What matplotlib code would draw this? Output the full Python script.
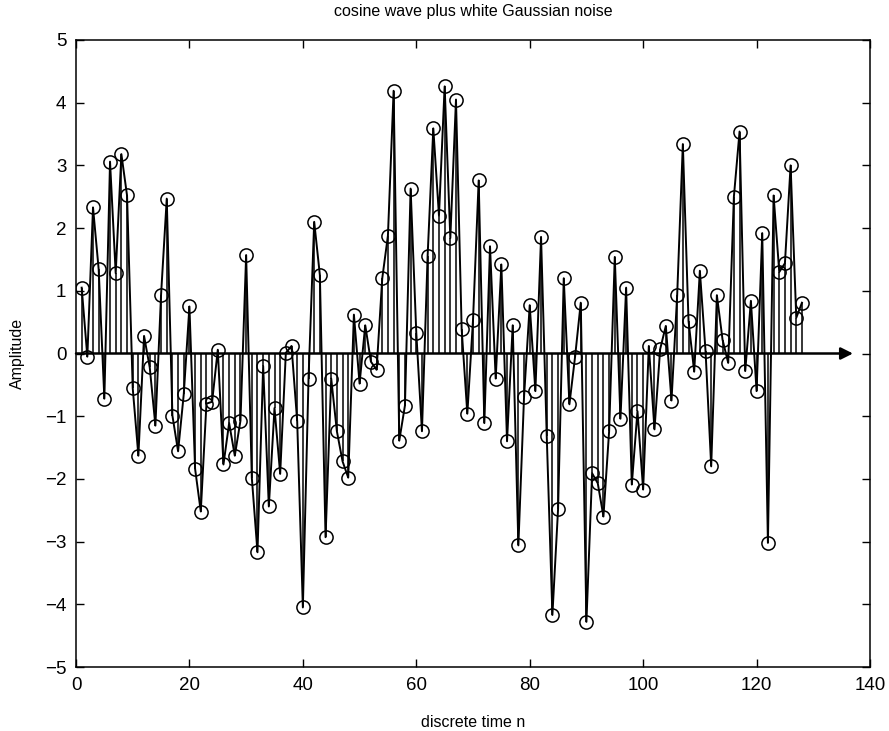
import numpy as np
import matplotlib
matplotlib.use("Agg")
import matplotlib.pyplot as plt

plt.rcParams['font.family'] = ['Liberation Sans', 'DejaVu Sans']

n = list(range(1, 129))
x = [1.05, -0.05, 2.33, 1.34, -0.72, 3.06, 1.28, 3.18, 2.52, -0.55,
     -1.63, 0.28, -0.22, -1.15, 0.94, 2.47, -0.99, -1.56, -0.65, 0.75,
     -1.84, -2.52, -0.80, -0.77, 0.06, -1.77, -1.11, -1.63, -1.07, 1.57,
     -1.98, -3.17, -0.20, -2.44, -0.87, -1.92, 0.01, 0.12, -1.08, -4.05,
     -0.40, 2.10, 1.25, -2.93, -0.40, -1.24, -1.72, -1.98, 0.62, -0.48,
     0.45, -0.13, -0.26, 1.20, 1.88, 4.19, -1.39, -0.83, 2.63, 0.33,
     -1.24, 1.56, 3.59, 2.20, 4.26, 1.84, 4.05, 0.39, -0.96, 0.53,
     2.76, -1.11, 1.71, -0.40, 1.42, -1.40, 0.45, -3.06, -0.69, 0.77,
     -0.60, 1.86, -1.31, -4.17, -2.48, 1.20, -0.81, -0.05, 0.81, -4.28,
     -1.91, -2.07, -2.60, -1.24, 1.54, -1.04, 1.05, -2.09, -0.92, -2.17,
     0.12, -1.21, 0.07, 0.44, -0.75, 0.93, 3.34, 0.52, -0.29, 1.32,
     0.04, -1.80, 0.93, 0.22, -0.15, 2.50, 3.54, -0.28, 0.84, -0.60,
     1.92, -3.02, 2.52, 1.30, 1.44, 3.00, 0.57, 0.81]

title = "cosine wave plus white Gaussian noise"
xlabel = "discrete time n"
ylabel = "Amplitude"
xticks = [0, 20, 40, 60, 80, 100, 120, 140]
yticks = [-5, -4, -3, -2, -1, 0, 1, 2, 3, 4, 5]
arrow_end = 137

fig = plt.figure(figsize=(8.89, 7.31), dpi=100)
ax = fig.add_axes([76/889, 1-667/731, (870-76)/889, (667-40)/731])

# stems
ax.vlines(n, 0, x, colors='black', linewidth=1.1)
# connecting line
ax.plot(n, x, color='black', linewidth=1.4)
# markers
ax.plot(n, x, linestyle='none', marker='o', markersize=9.5,
        markerfacecolor='none', markeredgecolor='black', markeredgewidth=1.1)

# baseline with arrow
ax.annotate('', xy=(arrow_end, 0), xytext=(0, 0),
            arrowprops=dict(arrowstyle='-|>', color='black', lw=1.8,
                            mutation_scale=18, shrinkA=0, shrinkB=0))

ax.set_xlim(0, 140)
ax.set_ylim(-5, 5)
ax.set_xticks(xticks)
ax.set_yticks(yticks)
ax.tick_params(direction='in', top=True, right=True, length=6, width=1,
               labelsize=13.5, pad=7)
for s in ax.spines.values():
    s.set_linewidth(1.1)
ax.set_title(title, fontsize=11.5, pad=17)
ax.set_xlabel(xlabel, fontsize=11.5, labelpad=15)
ax.set_ylabel(ylabel, fontsize=11.5, labelpad=14)

fig.savefig("out.png", dpi=100)
